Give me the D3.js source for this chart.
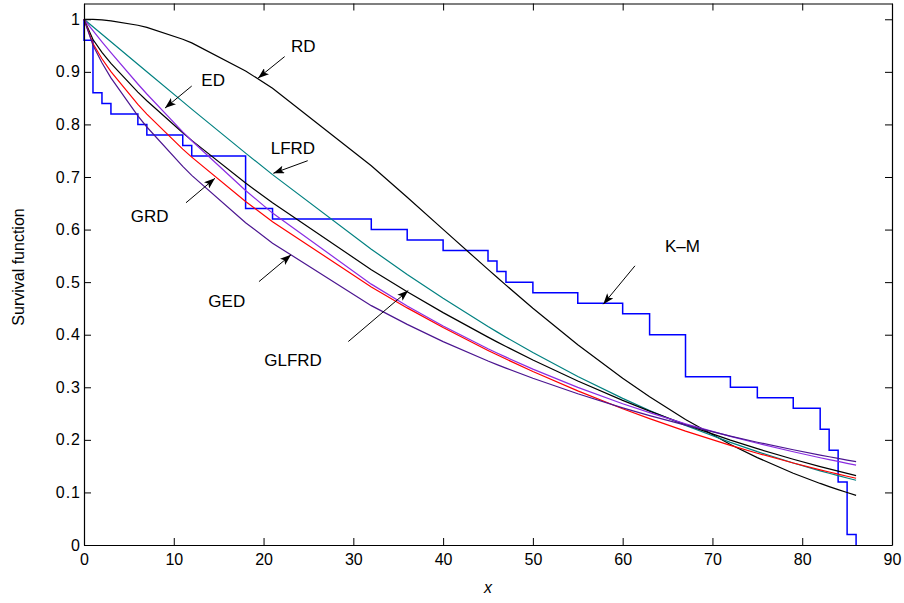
<!DOCTYPE html>
<html>
<head>
<meta charset="utf-8">
<script src="https://cdn.jsdelivr.net/npm/d3@7"></script>
<style>
  body { margin: 0; background: #fff; }
  svg { display: block; }
  text { font-family: "Liberation Sans", Arial, Helvetica, sans-serif; fill: #000; }
</style>
</head>
<body>
<script>
// failure times where the fitted curves were evaluated
const times = [0, 1, 2, 3, 6, 7, 11, 12, 18, 21, 32, 36, 40, 45, 46, 47, 50, 55, 60, 63, 67, 72, 75, 79, 82, 83, 84, 85, 86];

const rd    = [1, 0.9997, 0.9987, 0.9971, 0.9886, 0.9845, 0.9621, 0.9551, 0.9018, 0.8688, 0.7213, 0.6614, 0.6003, 0.5242, 0.5092, 0.4943, 0.4504, 0.3810, 0.3171, 0.2819, 0.2388, 0.1913, 0.1662, 0.1366, 0.1171, 0.1111, 0.1053, 0.0998, 0.0945];
const ed    = [1, 0.9783, 0.9571, 0.9364, 0.8769, 0.8579, 0.7859, 0.7689, 0.6742, 0.6313, 0.4962, 0.4546, 0.4164, 0.3733, 0.3652, 0.3573, 0.3345, 0.2998, 0.2687, 0.2517, 0.2305, 0.2066, 0.1935, 0.1773, 0.1660, 0.1624, 0.1589, 0.1554, 0.1521];
const lfrd  = [1, 0.9858, 0.9715, 0.9573, 0.9144, 0.9002, 0.8433, 0.8291, 0.7454, 0.7045, 0.5626, 0.5147, 0.4692, 0.4156, 0.4054, 0.3953, 0.3660, 0.3205, 0.2789, 0.2559, 0.2274, 0.1951, 0.1775, 0.1559, 0.1411, 0.1365, 0.1319, 0.1275, 0.1232];
const grd   = [1, 0.9537, 0.9249, 0.9003, 0.8381, 0.8197, 0.7531, 0.7377, 0.6533, 0.6150, 0.4908, 0.4510, 0.4136, 0.3701, 0.3618, 0.3537, 0.3300, 0.2931, 0.2592, 0.2403, 0.2167, 0.1896, 0.1746, 0.1559, 0.1430, 0.1389, 0.1348, 0.1308, 0.1270];
const ged   = [1, 0.9504, 0.9172, 0.8885, 0.8162, 0.7951, 0.7201, 0.7031, 0.6131, 0.5741, 0.4553, 0.4196, 0.3869, 0.3501, 0.3432, 0.3365, 0.3172, 0.2876, 0.2609, 0.2461, 0.2279, 0.2071, 0.1955, 0.1812, 0.1710, 0.1678, 0.1647, 0.1616, 0.1585];
const glfrd = [1, 0.9614, 0.9370, 0.9160, 0.8615, 0.8451, 0.7841, 0.7697, 0.6886, 0.6508, 0.5237, 0.4817, 0.4420, 0.3954, 0.3864, 0.3777, 0.3520, 0.3120, 0.2751, 0.2546, 0.2289, 0.1995, 0.1832, 0.1631, 0.1492, 0.1448, 0.1404, 0.1362, 0.1320];

// Kaplan-Meier estimate
const kmTimes = [0, 0, 1, 2, 3, 6, 7, 11, 12, 18, 21, 32, 36, 40, 45, 46, 47, 50, 55, 60, 63, 67, 72, 75, 79, 82, 83, 84, 85, 86];
const kmSurv  = [1, 0.96, 0.86, 0.84, 0.82, 0.80, 0.78, 0.76, 0.74, 0.64, 0.62, 0.60, 0.58, 0.56, 0.54, 0.52, 0.50, 0.48, 0.46, 0.44, 0.40, 0.32, 0.30, 0.28, 0.26, 0.22, 0.18, 0.12, 0.02, 0];

const xTicks = [0, 10, 20, 30, 40, 50, 60, 70, 80, 90];
const yTicks = [0, 0.1, 0.2, 0.3, 0.4, 0.5, 0.6, 0.7, 0.8, 0.9, 1];

// label text, text position, arrow tail, arrow tip (data units)
const labels = ['RD', 'ED', 'LFRD', 'GRD', 'GED', 'GLFRD', 'K\u2013M'];
const labelPos = [[23.06, 0.937], [13.07, 0.873], [20.8, 0.744], [5.2, 0.615], [13.85, 0.452], [20.08, 0.341], [64.71, 0.558]];
const arrowFrom = [[22.35, 0.929], [12.0, 0.873], [24.92, 0.731], [11.36, 0.651], [19.49, 0.501], [29.44, 0.387], [61.37, 0.531]];
const arrowTo = [[19.38, 0.888], [9.02, 0.831], [21.09, 0.707], [14.59, 0.6975], [23.06, 0.552], [36.12, 0.484], [57.84, 0.458]];

const W = 904, H = 603;
const x = d3.scaleLinear().domain([0, 90]).range([84, 892]);
const y = d3.scaleLinear().domain([0, 1.03]).range([545, 3.5]);

const svg = d3.select('body').append('svg')
    .attr('width', W)
    .attr('height', H);

svg.append('defs').append('marker')
    .attr('id', 'head')
    .attr('viewBox', '0 0 11 8')
    .attr('refX', 11)
    .attr('refY', 4)
    .attr('markerWidth', 11)
    .attr('markerHeight', 8)
    .attr('markerUnits', 'userSpaceOnUse')
    .attr('orient', 'auto')
    .append('path')
    .attr('d', 'M0,0 L11,4 L0,8 L2.5,4 Z')
    .attr('fill', '#000');

const line = d3.line()
    .x((d, i) => x(times[i]))
    .y(d => y(d));

const curves = [
    { vals: rd, color: '#000000' },
    { vals: lfrd, color: '#008080' },
    { vals: glfrd, color: '#000000' },
    { vals: ed, color: '#8a2be2' },
    { vals: grd, color: '#ff0000' },
    { vals: ged, color: '#4b1590' }
];

const km = kmTimes.map((t, i) => [t, kmSurv[i]]);
svg.append('path')
    .attr('d', d3.line().x(d => x(d[0])).y(d => y(d[1])).curve(d3.curveStepAfter)(km))
    .attr('fill', 'none')
    .attr('stroke', '#0000ff')
    .attr('stroke-width', 1.5);

curves.forEach(c => {
    svg.append('path')
        .attr('d', line(c.vals))
        .attr('fill', 'none')
        .attr('stroke', c.color)
        .attr('stroke-width', 1.2);
});

// axes, MATLAB style: box, ticks inward
const fmt = d => d === 0 ? '0' : d === 1 ? '1' : d.toFixed(1);

svg.append('g').attr('transform', 'translate(0,545)')
    .call(d3.axisBottom(x).tickValues(xTicks).tickSizeInner(-7).tickSizeOuter(0).tickPadding(9));
const gy = svg.append('g').attr('transform', 'translate(84,0)')
    .call(d3.axisLeft(y).tickValues(yTicks).tickFormat(fmt).tickSizeInner(-7).tickSizeOuter(0).tickPadding(3));
svg.append('g').attr('transform', 'translate(0,3.5)')
    .call(d3.axisTop(x).tickValues(xTicks).tickFormat('').tickSizeInner(-7).tickSizeOuter(0));
svg.append('g').attr('transform', 'translate(892,0)')
    .call(d3.axisRight(y).tickValues(yTicks).tickFormat('').tickSizeInner(-7).tickSizeOuter(0));

svg.selectAll('.domain').attr('stroke', '#000').attr('stroke-width', 1.2);
svg.selectAll('.tick line').attr('stroke', '#000');
svg.selectAll('.tick text')
    .style('font-size', '16px')
    .style('font-family', '"Liberation Sans", Arial, sans-serif')
    .attr('fill', '#000');
gy.selectAll('.tick text').style('letter-spacing', '1px');

svg.append('text')
    .attr('x', 488)
    .attr('y', 593)
    .attr('text-anchor', 'middle')
    .style('font-size', '16px')
    .style('font-style', 'italic')
    .text('x');

svg.append('text')
    .attr('transform', 'translate(24,267) rotate(-90)')
    .attr('text-anchor', 'middle')
    .style('font-size', '16px')
    .text('Survival function');

// curve labels with arrows
labels.forEach((t, i) => {
    svg.append('text')
        .attr('x', x(labelPos[i][0]))
        .attr('y', y(labelPos[i][1]))
        .style('font-size', '17px')
        .text(t);
    svg.append('line')
        .attr('x1', x(arrowFrom[i][0]))
        .attr('y1', y(arrowFrom[i][1]))
        .attr('x2', x(arrowTo[i][0]))
        .attr('y2', y(arrowTo[i][1]))
        .attr('stroke', '#000')
        .attr('stroke-width', 1)
        .attr('marker-end', 'url(#head)');
});
</script>
</body>
</html>
